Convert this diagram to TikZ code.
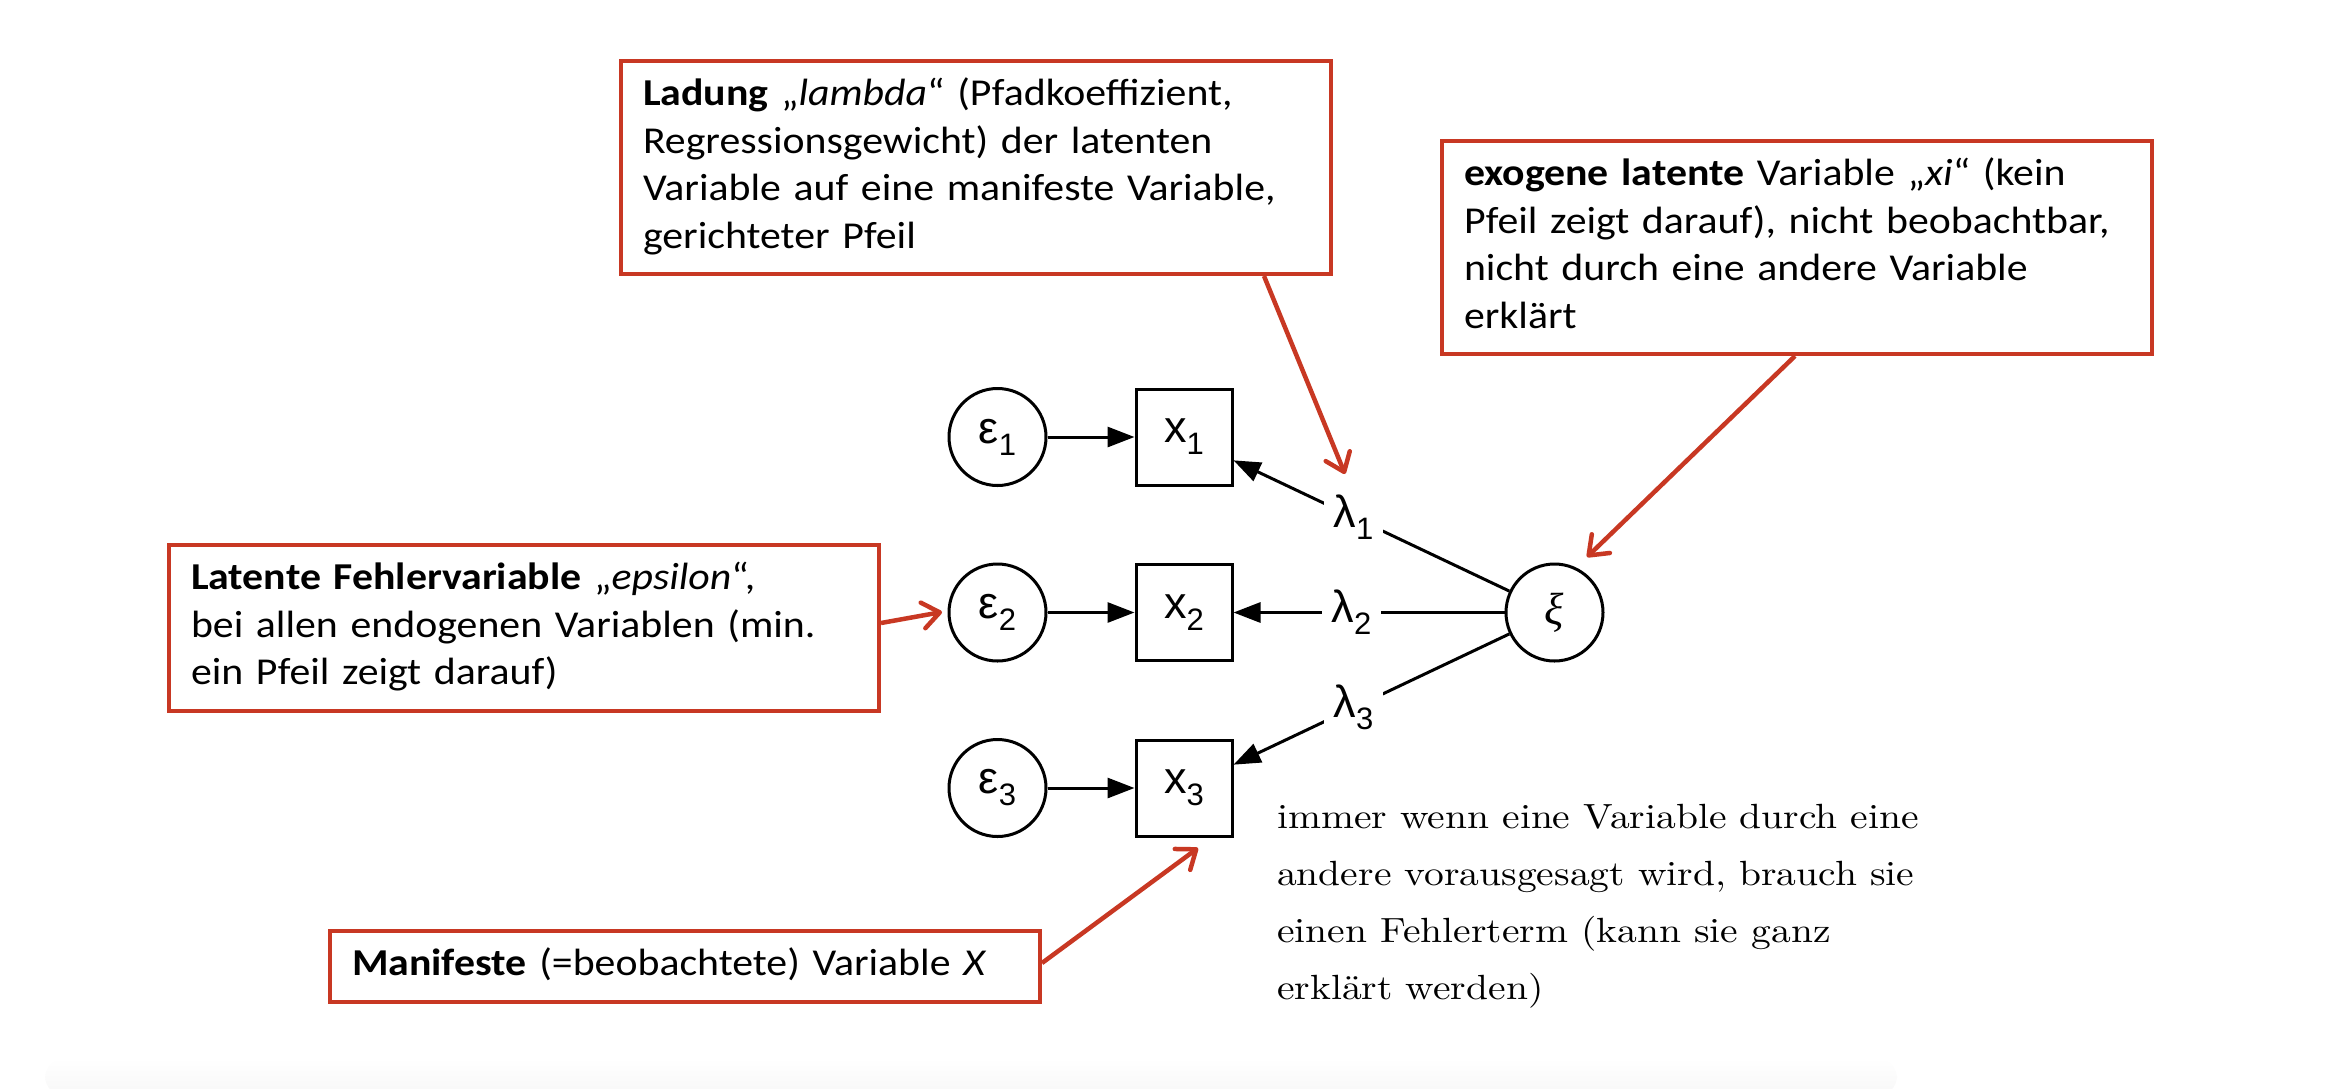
\documentclass[tikz,border=0pt]{standalone}
\usepackage{fontspec}
\newfontfamily\boxfont{Carlito}[FakeStretch=1.1]
\newfontfamily\dgfont{Liberation Sans}
\newfontfamily\xifont{Liberation Serif}
\newfontfamily\remfont{lmroman10-regular.otf}[FakeStretch=1.13]
\usetikzlibrary{arrows.meta}
\definecolor{anno}{RGB}{200,56,35}
\newcommand\mysub[1]{\raisebox{-12pt}{\fontsize{31}{31}\selectfont #1}}
\tikzset{
  note/.style={draw=anno, line width=4pt, anchor=north west, text width=666pt,
    inner xsep=22pt, inner ysep=11.5pt, align=left,
    font=\boxfont\fontsize{38}{47.5}\selectfont},
  errnode/.style={circle, draw, line width=3pt, minimum size=97pt, inner sep=0pt,
    font=\dgfont\fontsize{45}{45}\selectfont},
  mannode/.style={rectangle, draw, line width=3pt, minimum size=96pt, inner sep=0pt,
    font=\dgfont\fontsize{45}{45}\selectfont},
  blk/.style={line width=3pt, -{Triangle[length=27pt,width=20pt]}},
  lamb/.style={fill=white, inner xsep=10pt, inner ysep=4pt, pos=0.565,
    font=\dgfont\fontsize{45}{45}\selectfont},
  annoarrow/.style={draw=anno, line width=4.5pt, -{Straight Barb[length=17pt,width=26pt,round]}},
  plaintext/.style={anchor=north west, inner sep=0pt, align=left,
    font=\remfont\fontsize{35}{57}\selectfont}
}
\begin{document}
\begin{tikzpicture}[x=1pt,y=-1pt]
\useasboundingbox (0,0) rectangle (2332,1088);
% faint shadow band at bottom
\shade[top color=white, bottom color=black!3, rounded corners=20pt] (45,1058) rectangle (1897,1096);

% annotation boxes
\node[note] (lad) at (619,59) {\begin{tabular}{@{}l@{}}
\textbf{Ladung} „\textit{lambda}“ (Pfadkoeffizient,\\
Regressionsgewicht) der latenten\\
Variable auf eine manifeste Variable,\\
gerichteter Pfeil\end{tabular}};
\node[note] (exo) at (1440,139) {\begin{tabular}{@{}l@{}}
\textbf{exogene latente} Variable „\textit{xi}“ (kein\\
Pfeil zeigt darauf), nicht beobachtbar,\\
nicht durch eine andere Variable\\
erklärt\end{tabular}};
\node[note] (lat) at (167,543) {\begin{tabular}{@{}l@{}}
\textbf{Latente Fehlervariable} „\textit{epsilon}“,\\
bei allen endogenen Variablen (min.\\
ein Pfeil zeigt darauf)\end{tabular}};
\node[note] (man) at (328,929) {\begin{tabular}{@{}l@{}}
\textbf{Manifeste} (=beobachtete) Variable \textit{X}\end{tabular}};

% model
\node[errnode] (e1) at (997.5,437) {ε\mysub{1}};
\node[errnode] (e2) at (997.5,612.5) {ε\mysub{2}};
\node[errnode] (e3) at (997.5,788) {ε\mysub{3}};
\node[mannode] (x1) at (1184,437) {x\mysub{1}};
\node[mannode] (x2) at (1184,612.5) {x\mysub{2}};
\node[mannode] (x3) at (1184,788) {x\mysub{3}};
\node[errnode] (xi) at (1554.5,612.5) {\xifont\itshape ξ};

\draw[blk] (e1) -- (x1);
\draw[blk] (e2) -- (x2);
\draw[blk] (e3) -- (x3);
\draw[blk] (xi) -- node[lamb] (l1) {λ\mysub{1}} (x1);
\draw[blk] (xi) -- node[lamb] (l2) {λ\mysub{2}} (x2);
\draw[blk] (xi) -- node[lamb] (l3) {λ\mysub{3}} (x3);

% annotation arrows
\coordinate (t1) at (1345,474);
\coordinate (t2) at (1587,557);
\coordinate (t3) at (942,612);
\coordinate (t4) at (1198,848);
\draw[annoarrow] ([xshift=645pt]lad.south west) -- (t1);
\draw[annoarrow] ([xshift=355pt]exo.south west) -- (t2);
\draw[annoarrow] ([yshift=-80pt]lat.north east) -- (t3);
\draw[annoarrow] ([yshift=-34pt]man.north east) -- (t4);

% remark
\node[plaintext] (rem) at (1277,788) {\strut immer wenn eine Variable durch eine\\
andere vorausgesagt wird, brauch sie\\
einen Fehlerterm (kann sie ganz\\
erklärt werden)};
\end{tikzpicture}
\end{document}
